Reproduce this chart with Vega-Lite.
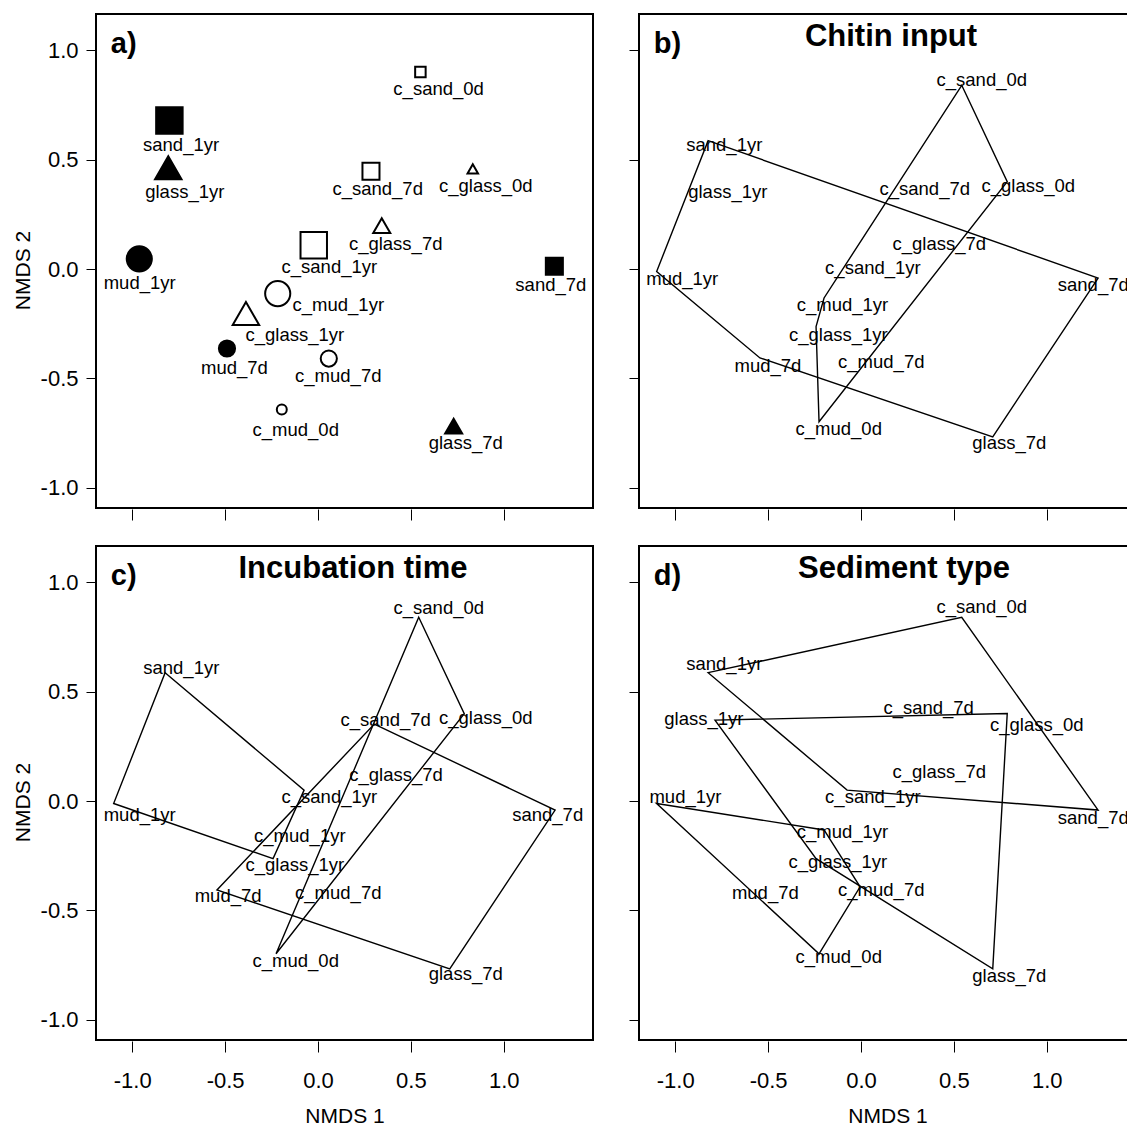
{
  "$schema": "https://vega.github.io/schema/vega-lite/v6.json",
  "padding": {"left": 11, "top": 13, "right": 0, "bottom": 0},
  "background": "white",
  "config": {
    "view": {"stroke": "black", "strokeWidth": 2},
    "font": "Liberation Sans",
    "axis": {
      "grid": false, "domain": false, "tickColor": "black", "tickWidth": 1,
      "labelFont": "Liberation Sans", "labelFontSize": 22, "labelColor": "black",
      "titleFont": "Liberation Sans", "titleFontSize": 21, "titleFontWeight": "normal", "titleColor": "black"
    },
    "title": {"font": "Liberation Sans", "fontSize": 31, "fontWeight": "bold", "color": "black", "frame": "group", "anchor": "middle", "baseline": "alphabetic", "offset": -39}
  },
  "datasets": {
    "points": [
      {"sample": "c_sand_0d", "chitin": "yes", "sediment": "sand", "time": "0d", "x": 0.551, "y": 0.901},
      {"sample": "c_glass_0d", "chitin": "yes", "sediment": "glass", "time": "0d", "x": 0.833, "y": 0.458},
      {"sample": "c_mud_0d", "chitin": "yes", "sediment": "mud", "time": "0d", "x": -0.195, "y": -0.642},
      {"sample": "c_sand_7d", "chitin": "yes", "sediment": "sand", "time": "7d", "x": 0.285, "y": 0.447},
      {"sample": "c_glass_7d", "chitin": "yes", "sediment": "glass", "time": "7d", "x": 0.343, "y": 0.199},
      {"sample": "c_mud_7d", "chitin": "yes", "sediment": "mud", "time": "7d", "x": 0.058, "y": -0.409},
      {"sample": "c_sand_1yr", "chitin": "yes", "sediment": "sand", "time": "1yr", "x": -0.023, "y": 0.109},
      {"sample": "c_glass_1yr", "chitin": "yes", "sediment": "glass", "time": "1yr", "x": -0.388, "y": -0.203},
      {"sample": "c_mud_1yr", "chitin": "yes", "sediment": "mud", "time": "1yr", "x": -0.217, "y": -0.112},
      {"sample": "sand_7d", "chitin": "no", "sediment": "sand", "time": "7d", "x": 1.272, "y": 0.013},
      {"sample": "glass_7d", "chitin": "no", "sediment": "glass", "time": "7d", "x": 0.730, "y": -0.718},
      {"sample": "mud_7d", "chitin": "no", "sediment": "mud", "time": "7d", "x": -0.490, "y": -0.363},
      {"sample": "sand_1yr", "chitin": "no", "sediment": "sand", "time": "1yr", "x": -0.800, "y": 0.679},
      {"sample": "glass_1yr", "chitin": "no", "sediment": "glass", "time": "1yr", "x": -0.806, "y": 0.463},
      {"sample": "mud_1yr", "chitin": "no", "sediment": "mud", "time": "1yr", "x": -0.962, "y": 0.047}
    ],
    "vertices": [
      {"sample": "c_sand_0d", "x": 0.542, "y": 0.840},
      {"sample": "c_glass_0d", "x": 0.787, "y": 0.400},
      {"sample": "c_mud_0d", "x": -0.226, "y": -0.698},
      {"sample": "c_sand_7d", "x": 0.303, "y": 0.352},
      {"sample": "c_glass_7d", "x": 0.366, "y": 0.171},
      {"sample": "c_mud_7d", "x": -0.005, "y": -0.392},
      {"sample": "c_sand_1yr", "x": -0.075, "y": 0.050},
      {"sample": "c_glass_1yr", "x": -0.242, "y": -0.263},
      {"sample": "c_mud_1yr", "x": -0.199, "y": -0.132},
      {"sample": "sand_7d", "x": 1.276, "y": -0.041},
      {"sample": "glass_7d", "x": 0.709, "y": -0.767},
      {"sample": "mud_7d", "x": -0.544, "y": -0.406},
      {"sample": "sand_1yr", "x": -0.823, "y": 0.587},
      {"sample": "glass_1yr", "x": -0.786, "y": 0.370},
      {"sample": "mud_1yr", "x": -1.100, "y": -0.011}
    ],
    "labels": [
      {"panel": "a", "sample": "c_sand_0d", "x": 0.649, "y": 0.824},
      {"panel": "a", "sample": "sand_1yr", "x": -0.737, "y": 0.569},
      {"panel": "a", "sample": "glass_1yr", "x": -0.717, "y": 0.351},
      {"panel": "a", "sample": "c_sand_7d", "x": 0.321, "y": 0.367},
      {"panel": "a", "sample": "c_glass_0d", "x": 0.903, "y": 0.378},
      {"panel": "a", "sample": "c_glass_7d", "x": 0.418, "y": 0.115},
      {"panel": "a", "sample": "c_sand_1yr", "x": 0.061, "y": 0.010},
      {"panel": "a", "sample": "mud_1yr", "x": -0.960, "y": -0.063},
      {"panel": "a", "sample": "sand_7d", "x": 1.253, "y": -0.071},
      {"panel": "a", "sample": "c_mud_1yr", "x": 0.109, "y": -0.165},
      {"panel": "a", "sample": "c_glass_1yr", "x": -0.125, "y": -0.299},
      {"panel": "a", "sample": "mud_7d", "x": -0.450, "y": -0.452},
      {"panel": "a", "sample": "c_mud_7d", "x": 0.109, "y": -0.490},
      {"panel": "a", "sample": "c_mud_0d", "x": -0.120, "y": -0.734},
      {"panel": "a", "sample": "glass_7d", "x": 0.795, "y": -0.794},

      {"panel": "b", "sample": "c_sand_0d", "x": 0.650, "y": 0.866},
      {"panel": "b", "sample": "sand_1yr", "x": -0.736, "y": 0.569},
      {"panel": "b", "sample": "glass_1yr", "x": -0.717, "y": 0.351},
      {"panel": "b", "sample": "c_sand_7d", "x": 0.343, "y": 0.367},
      {"panel": "b", "sample": "c_glass_0d", "x": 0.900, "y": 0.378},
      {"panel": "b", "sample": "c_glass_7d", "x": 0.421, "y": 0.115},
      {"panel": "b", "sample": "c_sand_1yr", "x": 0.064, "y": 0.005},
      {"panel": "b", "sample": "mud_1yr", "x": -0.962, "y": -0.045},
      {"panel": "b", "sample": "sand_7d", "x": 1.250, "y": -0.071},
      {"panel": "b", "sample": "c_mud_1yr", "x": -0.100, "y": -0.165},
      {"panel": "b", "sample": "c_glass_1yr", "x": -0.122, "y": -0.299},
      {"panel": "b", "sample": "mud_7d", "x": -0.501, "y": -0.441},
      {"panel": "b", "sample": "c_mud_7d", "x": 0.109, "y": -0.426},
      {"panel": "b", "sample": "c_mud_0d", "x": -0.120, "y": -0.730},
      {"panel": "b", "sample": "glass_7d", "x": 0.798, "y": -0.794},

      {"panel": "c", "sample": "c_sand_0d", "x": 0.650, "y": 0.881},
      {"panel": "c", "sample": "sand_1yr", "x": -0.736, "y": 0.609},
      {"panel": "c", "sample": "c_sand_7d", "x": 0.364, "y": 0.370},
      {"panel": "c", "sample": "c_glass_0d", "x": 0.903, "y": 0.378},
      {"panel": "c", "sample": "c_glass_7d", "x": 0.420, "y": 0.119},
      {"panel": "c", "sample": "c_sand_1yr", "x": 0.061, "y": 0.017},
      {"panel": "c", "sample": "mud_1yr", "x": -0.960, "y": -0.064},
      {"panel": "c", "sample": "sand_7d", "x": 1.236, "y": -0.064},
      {"panel": "c", "sample": "c_mud_1yr", "x": -0.098, "y": -0.159},
      {"panel": "c", "sample": "c_glass_1yr", "x": -0.125, "y": -0.293},
      {"panel": "c", "sample": "mud_7d", "x": -0.484, "y": -0.434},
      {"panel": "c", "sample": "c_mud_7d", "x": 0.109, "y": -0.422},
      {"panel": "c", "sample": "c_mud_0d", "x": -0.120, "y": -0.730},
      {"panel": "c", "sample": "glass_7d", "x": 0.795, "y": -0.792},

      {"panel": "d", "sample": "c_sand_0d", "x": 0.650, "y": 0.888},
      {"panel": "d", "sample": "sand_1yr", "x": -0.736, "y": 0.626},
      {"panel": "d", "sample": "glass_1yr", "x": -0.846, "y": 0.373},
      {"panel": "d", "sample": "c_sand_7d", "x": 0.364, "y": 0.424},
      {"panel": "d", "sample": "c_glass_0d", "x": 0.946, "y": 0.347},
      {"panel": "d", "sample": "c_glass_7d", "x": 0.421, "y": 0.134},
      {"panel": "d", "sample": "c_sand_1yr", "x": 0.064, "y": 0.017},
      {"panel": "d", "sample": "mud_1yr", "x": -0.945, "y": 0.020},
      {"panel": "d", "sample": "sand_7d", "x": 1.250, "y": -0.079},
      {"panel": "d", "sample": "c_mud_1yr", "x": -0.100, "y": -0.143},
      {"panel": "d", "sample": "c_glass_1yr", "x": -0.125, "y": -0.277},
      {"panel": "d", "sample": "mud_7d", "x": -0.515, "y": -0.422},
      {"panel": "d", "sample": "c_mud_7d", "x": 0.109, "y": -0.407},
      {"panel": "d", "sample": "c_mud_0d", "x": -0.120, "y": -0.712},
      {"panel": "d", "sample": "glass_7d", "x": 0.798, "y": -0.800}
    ],
    "hulls": [
      {"panel": "b", "group": "no chitin", "order": 1, "sample": "sand_1yr"},
      {"panel": "b", "group": "no chitin", "order": 2, "sample": "sand_7d"},
      {"panel": "b", "group": "no chitin", "order": 3, "sample": "glass_7d"},
      {"panel": "b", "group": "no chitin", "order": 4, "sample": "mud_7d"},
      {"panel": "b", "group": "no chitin", "order": 5, "sample": "mud_1yr"},
      {"panel": "b", "group": "chitin", "order": 1, "sample": "c_sand_0d"},
      {"panel": "b", "group": "chitin", "order": 2, "sample": "c_glass_0d"},
      {"panel": "b", "group": "chitin", "order": 3, "sample": "c_mud_0d"},
      {"panel": "b", "group": "chitin", "order": 4, "sample": "c_glass_1yr"},
      {"panel": "b", "group": "chitin", "order": 5, "sample": "c_mud_1yr"},

      {"panel": "c", "group": "0d", "order": 1, "sample": "c_sand_0d"},
      {"panel": "c", "group": "0d", "order": 2, "sample": "c_glass_0d"},
      {"panel": "c", "group": "0d", "order": 3, "sample": "c_mud_0d"},
      {"panel": "c", "group": "7d", "order": 1, "sample": "c_sand_7d"},
      {"panel": "c", "group": "7d", "order": 2, "sample": "sand_7d"},
      {"panel": "c", "group": "7d", "order": 3, "sample": "glass_7d"},
      {"panel": "c", "group": "7d", "order": 4, "sample": "mud_7d"},
      {"panel": "c", "group": "1yr", "order": 1, "sample": "sand_1yr"},
      {"panel": "c", "group": "1yr", "order": 2, "sample": "c_sand_1yr"},
      {"panel": "c", "group": "1yr", "order": 3, "sample": "c_glass_1yr"},
      {"panel": "c", "group": "1yr", "order": 4, "sample": "mud_1yr"},

      {"panel": "d", "group": "sand", "order": 1, "sample": "sand_1yr"},
      {"panel": "d", "group": "sand", "order": 2, "sample": "c_sand_0d"},
      {"panel": "d", "group": "sand", "order": 3, "sample": "sand_7d"},
      {"panel": "d", "group": "sand", "order": 4, "sample": "c_sand_1yr"},
      {"panel": "d", "group": "glass", "order": 1, "sample": "glass_1yr"},
      {"panel": "d", "group": "glass", "order": 2, "sample": "c_glass_0d"},
      {"panel": "d", "group": "glass", "order": 3, "sample": "glass_7d"},
      {"panel": "d", "group": "glass", "order": 4, "sample": "c_glass_1yr"},
      {"panel": "d", "group": "mud", "order": 1, "sample": "mud_1yr"},
      {"panel": "d", "group": "mud", "order": 2, "sample": "c_mud_1yr"},
      {"panel": "d", "group": "mud", "order": 3, "sample": "c_mud_7d"},
      {"panel": "d", "group": "mud", "order": 4, "sample": "c_mud_0d"}
    ]
  },
  "spacing": 23,
  "vconcat": [
    {
      "spacing": 33,
      "hconcat": [
        {
          "width": 497, "height": 494,
          "encoding": {
            "x": {"field": "x", "type": "quantitative", "scale": {"domain": [-1.195, 1.48], "nice": false, "zero": false},
                  "axis": {"values": [-1, -0.5, 0, 0.5, 1], "labels": false, "title": null, "tickSize": 11, "offset": 1}},
            "y": {"field": "y", "type": "quantitative", "scale": {"domain": [-1.092, 1.166], "nice": false, "zero": false},
                  "axis": {"values": [-1, -0.5, 0, 0.5, 1], "title": "NMDS 2", "tickSize": 10, "labelPadding": 8, "titlePadding": 7, "titleY": 256,
                           "labelExpr": "replace(format(datum.value, '.1f'), '\u2212', '-')"}}
          },
          "layer": [
            {
              "data": {"name": "points"},
              "mark": {"type": "point", "filled": true, "stroke": "black", "strokeWidth": 2, "opacity": 1},
              "encoding": {
                "shape": {"field": "sediment", "type": "nominal", "scale": {"domain": ["sand", "glass", "mud"], "range": ["square", "triangle-up", "M-0.95,0A0.95,0.95,0,1,1,0.95,0A0.95,0.95,0,1,1,-0.95,0Z"]}, "legend": null},
                "fill": {"field": "chitin", "type": "nominal", "scale": {"domain": ["no", "yes"], "range": ["black", "white"]}, "legend": null},
                "size": {"field": "time", "type": "ordinal", "scale": {"type": "ordinal", "domain": ["0d", "7d", "1yr"], "range": [110, 290, 700]}, "legend": null}
              }
            },
            {
              "data": {"name": "labels"},
              "transform": [{"filter": "datum.panel == 'a'"}],
              "mark": {"type": "text", "fontSize": 18.5, "font": "Liberation Sans", "color": "black", "align": "center", "baseline": "middle"},
              "encoding": {"text": {"field": "sample"}}
            },
            {
              "data": {"values": [{"tag": "a)", "x": -1.115, "y": 0.99}]},
              "mark": {"type": "text", "fontSize": 29, "fontWeight": "bold", "font": "Liberation Sans", "color": "black", "align": "left", "baseline": "alphabetic"},
              "encoding": {"text": {"field": "tag"}}
            }
          ]
        },
        {
          "width": 497, "height": 494,
          "title": {"text": "Chitin input", "dx": 3.5},
          "encoding": {
            "x": {"field": "x", "type": "quantitative", "scale": {"domain": [-1.195, 1.48], "nice": false, "zero": false},
                  "axis": {"values": [-1, -0.5, 0, 0.5, 1], "labels": false, "title": null, "tickSize": 11, "offset": 1}},
            "y": {"field": "y", "type": "quantitative", "scale": {"domain": [-1.092, 1.166], "nice": false, "zero": false},
                  "axis": {"values": [-1, -0.5, 0, 0.5, 1], "labels": false, "title": null, "tickSize": 10}}
          },
          "layer": [
            {
              "data": {"name": "hulls"},
              "transform": [
                {"filter": "datum.panel == 'b'"},
                {"lookup": "sample", "from": {"data": {"name": "vertices"}, "key": "sample", "fields": ["x", "y"]}}
              ],
              "mark": {"type": "line", "interpolate": "linear-closed", "color": "black", "strokeWidth": 1.4},
              "encoding": {"detail": {"field": "group"}, "order": {"field": "order", "type": "quantitative"}}
            },
            {
              "data": {"name": "labels"},
              "transform": [{"filter": "datum.panel == 'b'"}],
              "mark": {"type": "text", "fontSize": 18.5, "font": "Liberation Sans", "color": "black", "align": "center", "baseline": "middle"},
              "encoding": {"text": {"field": "sample"}}
            },
            {
              "data": {"values": [{"tag": "b)", "x": -1.115, "y": 0.99}]},
              "mark": {"type": "text", "fontSize": 29, "fontWeight": "bold", "font": "Liberation Sans", "color": "black", "align": "left", "baseline": "alphabetic"},
              "encoding": {"text": {"field": "tag"}}
            }
          ]
        }
      ]
    },
    {
      "spacing": 33,
      "hconcat": [
        {
          "width": 497, "height": 494,
          "title": {"text": "Incubation time", "dx": 8.5},
          "encoding": {
            "x": {"field": "x", "type": "quantitative", "scale": {"domain": [-1.195, 1.48], "nice": false, "zero": false},
                  "axis": {"values": [-1, -0.5, 0, 0.5, 1], "title": "NMDS 1", "tickSize": 11, "offset": 1, "labelPadding": 18, "titlePadding": 14,
                           "labelExpr": "replace(format(datum.value, '.1f'), '\u2212', '-')"}},
            "y": {"field": "y", "type": "quantitative", "scale": {"domain": [-1.092, 1.166], "nice": false, "zero": false},
                  "axis": {"values": [-1, -0.5, 0, 0.5, 1], "title": "NMDS 2", "tickSize": 10, "labelPadding": 8, "titlePadding": 7, "titleY": 256,
                           "labelExpr": "replace(format(datum.value, '.1f'), '\u2212', '-')"}}
          },
          "layer": [
            {
              "data": {"name": "hulls"},
              "transform": [
                {"filter": "datum.panel == 'c'"},
                {"lookup": "sample", "from": {"data": {"name": "vertices"}, "key": "sample", "fields": ["x", "y"]}}
              ],
              "mark": {"type": "line", "interpolate": "linear-closed", "color": "black", "strokeWidth": 1.4},
              "encoding": {"detail": {"field": "group"}, "order": {"field": "order", "type": "quantitative"}}
            },
            {
              "data": {"name": "labels"},
              "transform": [{"filter": "datum.panel == 'c'"}],
              "mark": {"type": "text", "fontSize": 18.5, "font": "Liberation Sans", "color": "black", "align": "center", "baseline": "middle"},
              "encoding": {"text": {"field": "sample"}}
            },
            {
              "data": {"values": [{"tag": "c)", "x": -1.115, "y": 0.99}]},
              "mark": {"type": "text", "fontSize": 29, "fontWeight": "bold", "font": "Liberation Sans", "color": "black", "align": "left", "baseline": "alphabetic"},
              "encoding": {"text": {"field": "tag"}}
            }
          ]
        },
        {
          "width": 497, "height": 494,
          "title": {"text": "Sediment type", "dx": 16.5},
          "encoding": {
            "x": {"field": "x", "type": "quantitative", "scale": {"domain": [-1.195, 1.48], "nice": false, "zero": false},
                  "axis": {"values": [-1, -0.5, 0, 0.5, 1], "title": "NMDS 1", "tickSize": 11, "offset": 1, "labelPadding": 18, "titlePadding": 14,
                           "labelExpr": "replace(format(datum.value, '.1f'), '\u2212', '-')"}},
            "y": {"field": "y", "type": "quantitative", "scale": {"domain": [-1.092, 1.166], "nice": false, "zero": false},
                  "axis": {"values": [-1, -0.5, 0, 0.5, 1], "labels": false, "title": null, "tickSize": 10}}
          },
          "layer": [
            {
              "data": {"name": "hulls"},
              "transform": [
                {"filter": "datum.panel == 'd'"},
                {"lookup": "sample", "from": {"data": {"name": "vertices"}, "key": "sample", "fields": ["x", "y"]}}
              ],
              "mark": {"type": "line", "interpolate": "linear-closed", "color": "black", "strokeWidth": 1.4},
              "encoding": {"detail": {"field": "group"}, "order": {"field": "order", "type": "quantitative"}}
            },
            {
              "data": {"name": "labels"},
              "transform": [{"filter": "datum.panel == 'd'"}],
              "mark": {"type": "text", "fontSize": 18.5, "font": "Liberation Sans", "color": "black", "align": "center", "baseline": "middle"},
              "encoding": {"text": {"field": "sample"}}
            },
            {
              "data": {"values": [{"tag": "d)", "x": -1.115, "y": 0.99}]},
              "mark": {"type": "text", "fontSize": 29, "fontWeight": "bold", "font": "Liberation Sans", "color": "black", "align": "left", "baseline": "alphabetic"},
              "encoding": {"text": {"field": "tag"}}
            }
          ]
        }
      ]
    }
  ]
}
